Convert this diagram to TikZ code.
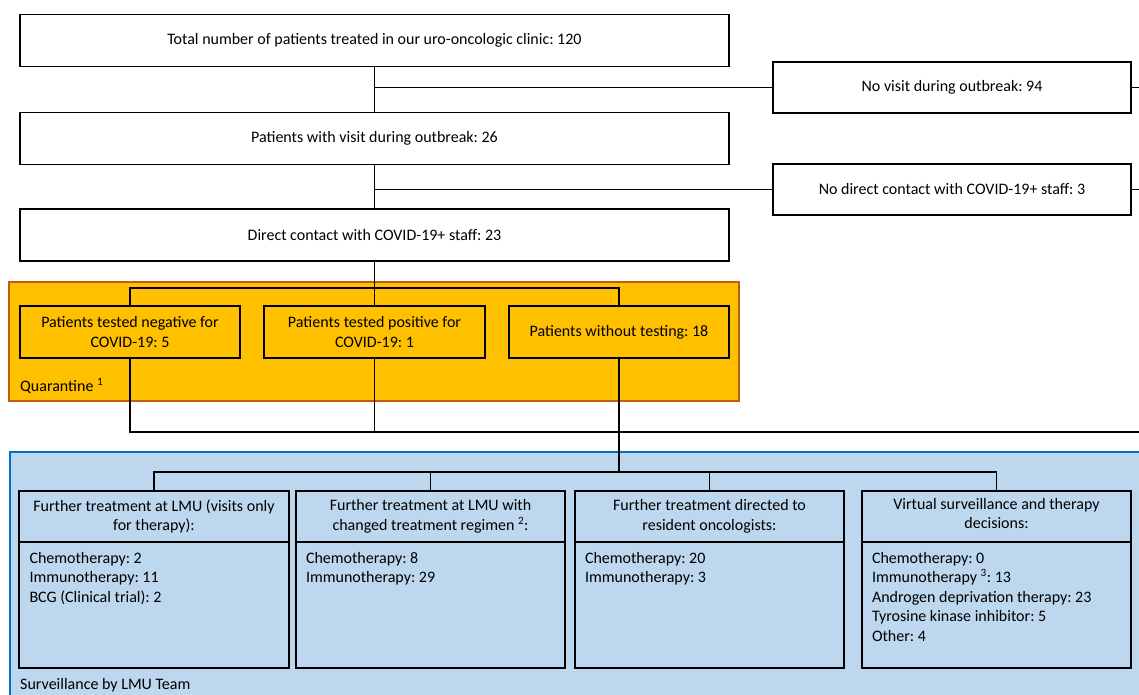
\documentclass[tikz,border=0pt]{standalone}
\usepackage{fontspec}
\setmainfont{Carlito}
\usepackage{xcolor}
\usetikzlibrary{calc}
\frenchspacing

\definecolor{quarantine fill}{HTML}{FFC000}
\definecolor{quarantine edge}{HTML}{C55A11}
\definecolor{surveillance fill}{HTML}{BDD7EE}
\definecolor{surveillance edge}{HTML}{0070C0}

\newcommand{\bodylist}[1]{\begin{minipage}[t][106pt][t]{249pt}#1\end{minipage}}

\tikzset{
	box text/.style = {font = \fontsize{16}{19.5}\selectfont},
	flow box/.style = {box text, draw, line width = 1.8pt, inner sep = 0pt, outer sep = 0pt, align = center, minimum height = 52pt},
	connector/.style = {line width = 1.6pt},
	area label/.style = {box text, anchor = west, inner sep = 0pt}
}

\begin{document}
\begin{tikzpicture}[x = 1pt, y = -1pt]
		%frame of the picture
		\useasboundingbox (0,0) rectangle (1139,694);
		\clip (0,0) rectangle (1139,694);
		
		%areas
		\draw [fill = quarantine fill, draw = quarantine edge, line width = 1.8pt] (9,282) rectangle (739,401);
		\draw [fill = surveillance fill, draw = surveillance edge, line width = 1.8pt] (10,452) rectangle (1160,710);
		
		\node [area label] (quarantine label) at (20,386) {Quarantine \textsuperscript{1}};
		\node [area label] (surveillance label) at (20,685) {Surveillance by LMU Team};
		
		%main flow
		\node [flow box, fill = white, minimum width = 709pt] (total) at (374.5,40.5) {Total number of patients treated in our uro-oncologic clinic: 120};
		\node [flow box, fill = white, minimum width = 709pt] (visit) at (374.5,138.5) {Patients with visit during outbreak: 26};
		\node [flow box, fill = white, minimum width = 709pt] (contact) at (374.5,235) {Direct contact with COVID-19+ staff: 23};
		
		\node [flow box, fill = white, minimum width = 358pt, minimum height = 51pt] (no visit) at (952,87.5) {No visit during outbreak: 94};
		\node [flow box, fill = white, minimum width = 358pt, minimum height = 51pt] (no contact) at (952,189.5) {No direct contact with COVID-19+ staff: 3};
		
		%coordinates
		\coordinate (no visit end) at (1160,87.5);
		\coordinate (no contact end) at (1160,189.5);
		\coordinate (quarantine split) at (374.5,288);
		\coordinate (outcome line) at (1160,432);
		\coordinate (surveillance split) at (619,472);
		
		%quarantine
		\node [flow box, minimum width = 220pt] (negative) at (130,332) {Patients tested negative for\\COVID-19: 5};
		\node [flow box, minimum width = 221pt] (positive) at (374.5,332) {Patients tested positive for\\COVID-19: 1};
		\node [flow box, minimum width = 220pt] (untested) at (619,332) {Patients without testing: 18};
		
		%surveillance
		\node [flow box, minimum width = 270pt, minimum height = 51pt] (lmu head) at (154,516.5) {Further treatment at LMU (visits only\\for therapy):};
		\node [flow box, minimum width = 269pt, minimum height = 51pt] (changed head) at (430.5,516.5) {Further treatment at LMU with\\changed treatment regimen \textsuperscript{2}:};
		\node [flow box, minimum width = 269pt, minimum height = 51pt] (resident head) at (709.5,516.5) {Further treatment directed to\\resident oncologists:};
		\node [flow box, minimum width = 269pt, minimum height = 51pt] (virtual head) at (996.5,516.5) {Virtual surveillance and therapy\\decisions:\strut};
		
		\node [flow box, anchor = north, minimum width = 270pt, inner xsep = 10pt, inner ysep = 10pt] (lmu body) at (lmu head.south) {\bodylist{Chemotherapy: 2\\Immunotherapy: 11\\BCG (Clinical trial): 2}};
		\node [flow box, anchor = north, minimum width = 269pt, inner xsep = 10pt, inner ysep = 10pt] (changed body) at (changed head.south) {\bodylist{Chemotherapy: 8\\Immunotherapy: 29}};
		\node [flow box, anchor = north, minimum width = 269pt, inner xsep = 10pt, inner ysep = 10pt] (resident body) at (resident head.south) {\bodylist{Chemotherapy: 20\\Immunotherapy: 3}};
		\node [flow box, anchor = north, minimum width = 269pt, inner xsep = 10pt, inner ysep = 10pt] (virtual body) at (virtual head.south) {\bodylist{Chemotherapy: 0\\Immunotherapy \textsuperscript{3}: 13\\Androgen deprivation therapy: 23\\Tyrosine kinase inhibitor: 5\\Other: 4}};
		
		%connectors
		\draw [connector] (total.south) -- (visit.north);
		\draw [connector] (no visit.west) -- (no visit.west -| total.south);
		\draw [connector] (no visit.east) -- (no visit end);
		\draw [connector] (visit.south) -- (contact.north);
		\draw [connector] (no contact.west) -- (no contact.west -| visit.south);
		\draw [connector] (no contact.east) -- (no contact end);
		
		\draw [connector] (contact.south) -- (positive.north);
		\draw [connector] (negative.north) |- (quarantine split) -| (untested.north);
		
		\draw [connector] (negative.south) |- (outcome line);
		\draw [connector] (positive.south) -- (positive.south |- outcome line);
		\draw [connector] (untested.south) -- (surveillance split);
		
		\draw [connector] (lmu head.north) |- (surveillance split) -| (virtual head.north);
		\draw [connector] (changed head.north) -- (changed head.north |- surveillance split);
		\draw [connector] (resident head.north) -- (resident head.north |- surveillance split);
	\end{tikzpicture}
\end{document}
